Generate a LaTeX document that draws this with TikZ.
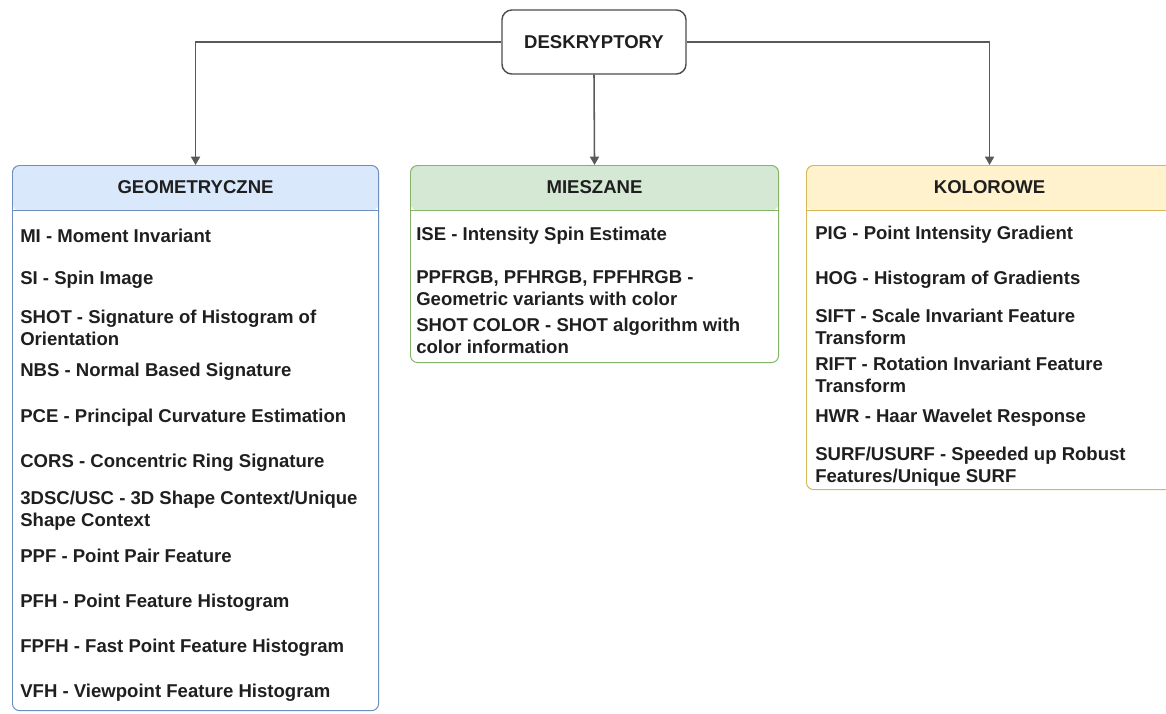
\documentclass[tikz,border=0pt]{standalone}
\usepackage{fontspec}
\setmainfont{Liberation Sans}
\usepackage{xcolor}
\usetikzlibrary{arrows.meta}

\definecolor{geofill}{HTML}{DAE8FC}
\definecolor{geoline}{HTML}{6C8EBF}
\definecolor{miefill}{HTML}{D5E8D4}
\definecolor{mieline}{HTML}{82B366}
\definecolor{kolfill}{HTML}{FFF2CC}
\definecolor{kolline}{HTML}{D6B656}

\tikzset{
  txt/.style={font=\bfseries\fontsize{13.2}{15.8}\selectfont, text=black!88},
  lane/.style n args={4}{draw=#1, line width=0.7pt, rounded corners=5pt,
    anchor=north west, inner sep=0pt, minimum width=#3, minimum height=#4,
    path picture={
      \fill[#2] (path picture bounding box.north west) rectangle
        ([yshift=-1.125cm]path picture bounding box.north east);
      \draw[#1, line width=0.7pt] ([yshift=-1.125cm]path picture bounding box.north west) --
        ([yshift=-1.125cm]path picture bounding box.north east);
    }},
  head/.style={txt, inner sep=0pt},
  item/.style={txt, anchor=west, align=left, inner sep=0pt},
  link/.style={draw=black!65, line width=1.1pt, -{Triangle[length=6pt,width=6.5pt]}}
}

\begin{document}
\begin{tikzpicture}[x=0.025cm,y=-0.025cm]
\useasboundingbox (0,0) rectangle (1166,713);

\node[txt, draw=black!70, line width=1pt, rounded corners=7pt,
  minimum width=4.6cm, minimum height=1.6cm] (top) at (594,42) {DESKRYPTORY};

\node[lane={geoline}{geofill}{9.15cm}{13.625cm}] (geo) at (12,165) {};
\node[lane={mieline}{miefill}{9.2cm}{4.925cm}] (mie) at (410,165) {};
\node[lane={kolline}{kolfill}{9.15cm}{8.1cm}] (kol) at (806,165) {};

\node[head] (geoh) at ([yshift=-0.5625cm]geo.north) {GEOMETRYCZNE};
\node[head] (mieh) at ([yshift=-0.5625cm]mie.north) {MIESZANE};
\node[head] (kolh) at ([yshift=-0.5625cm]kol.north) {KOLOROWE};

\draw[link] (top.west) -| (geo.north);
\draw[link] (top.south) -- (mie.north);
\draw[link] (top.east) -| (kol.north);

\node[item] (g1) at (20,236) {MI - Moment Invariant};
\node[item] (g2) at (20,280) {SI - Spin Image};
\node[item] (g3) at (20,328) {SHOT - Signature of Histogram of\\Orientation};
\node[item] (g4) at (20,372) {NBS - Normal Based Signature};
\node[item] (g5) at (20,418) {PCE - Principal Curvature Estimation};
\node[item] (g6) at (20,463) {CORS - Concentric Ring Signature};
\node[item] (g7) at (20,511) {3DSC/USC - 3D Shape Context/Unique\\Shape Context};
\node[item] (g8) at (20,556) {PPF - Point Pair Feature};
\node[item] (g9) at (20,603) {PFH - Point Feature Histogram};
\node[item] (g10) at (20,648) {FPFH - Fast Point Feature Histogram};
\node[item] (g11) at (20,693) {VFH - Viewpoint Feature Histogram};

\node[item] (m1) at (416,236) {ISE - Intensity Spin Estimate};
\node[item] (m2) at (416,288) {PPFRGB, PFHRGB, FPFHRGB -\\Geometric variants with color};
\node[item] (m3) at (416,336) {SHOT COLOR - SHOT algorithm with\\color information};

\node[item] (k1) at (815,235) {PIG - Point Intensity Gradient};
\node[item] (k2) at (815,280) {HOG - Histogram of Gradients};
\node[item] (k3) at (815,327) {SIFT - Scale Invariant Feature\\Transform};
\node[item] (k4) at (815,375) {RIFT - Rotation Invariant Feature\\Transform};
\node[item] (k5) at (815,418) {HWR - Haar Wavelet Response};
\node[item] (k6) at (815,467) {SURF/USURF - Speeded up Robust\\Features/Unique SURF};
\end{tikzpicture}
\end{document}
